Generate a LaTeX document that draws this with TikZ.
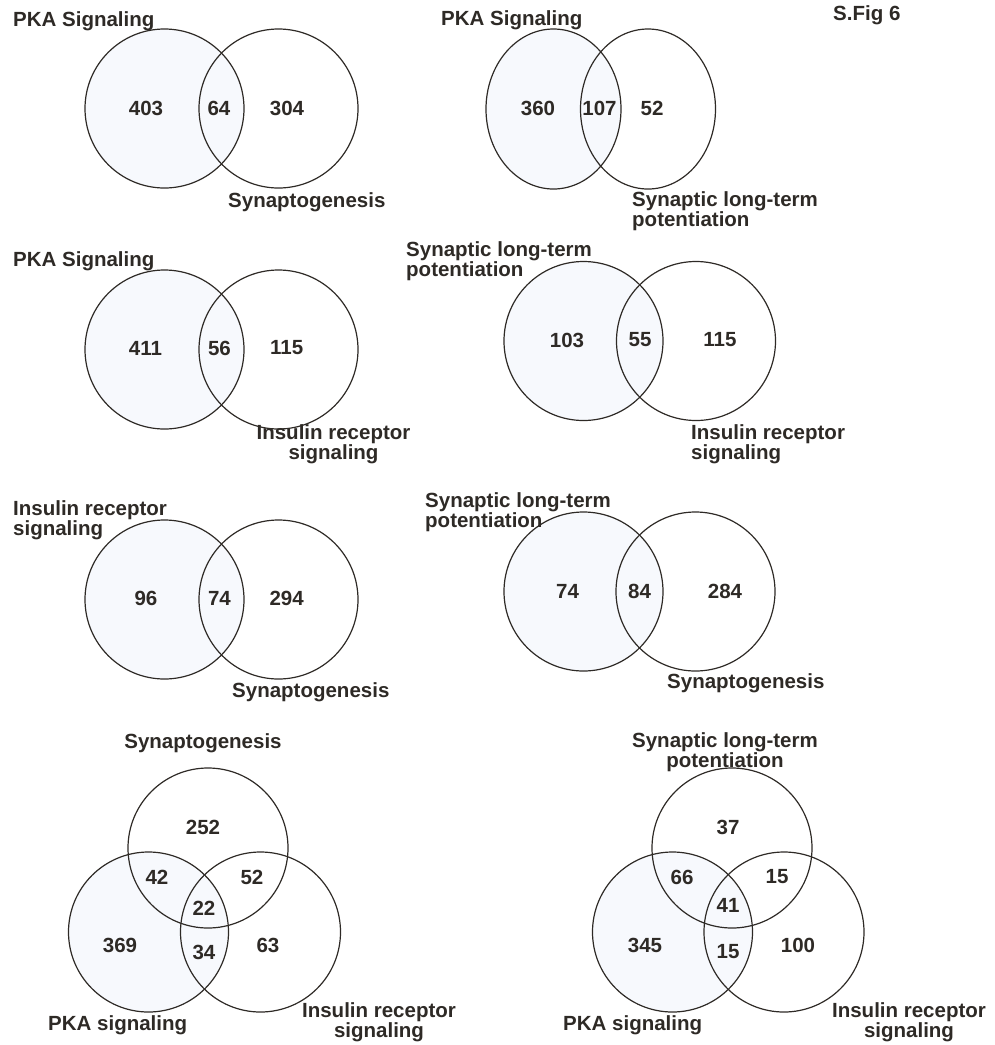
\documentclass[tikz,border=0pt]{standalone}
\usepackage{fontspec}
\setmainfont{Liberation Sans}
\usepackage{tikz}
\usepackage{xcolor}
\usetikzlibrary{shapes,positioning}

\definecolor{ink}{HTML}{2E2A26}
\definecolor{setfill}{HTML}{F7F9FD}

\begin{document}
\begin{tikzpicture}[
    x=1pt, y=-1pt,
    venn/.style={circle, draw=ink, line width=1.2pt, inner sep=0pt, minimum size=159pt},
    vennA/.style={venn, fill=setfill},
    oval/.style={ellipse, draw=ink, line width=1.2pt, inner sep=0pt, minimum width=135pt, minimum height=160pt},
    ovalA/.style={oval, fill=setfill},
    num/.style={text=ink, inner sep=0pt, font=\fontsize{20.5}{18}\selectfont\bfseries},
    lbl/.style={num, anchor=west, align=left},
    lblc/.style={num, align=center},
]
\useasboundingbox (0,0) rectangle (995,1045);

% row 1, left
\node[vennA] (p1a) at (164.5,108.5) {};
\node[venn] (p1b) at (278.5,108.5) {};
\node[num] (n1a) at (146,108) {403};
\node[num] (n1ab) at (219,108) {64};
\node[num] (n1b) at (287,108) {304};
\node[lbl] (l1a) at (13,21) {PKA Signaling};
\node[lbl] (l1b) at (228,202) {Synaptogenesis};

% row 1, right
\node[ovalA] (p2a) at (553.5,109) {};
\node[oval] (p2b) at (648,109) {};
\node[num] (n2a) at (538,108) {360};
\node[num] (n2ab) at (599.5,108) {107};
\node[num] (n2b) at (652,108) {52};
\node[lbl] (l2a) at (441,20) {PKA Signaling};
\node[lbl] (l2b) at (632,211) {Synaptic long-term\\potentiation};
\node[lbl] (sfig) at (833,15) {S.Fig 6};

% row 2, left
\node[vennA] (p3a) at (164.5,349.5) {};
\node[venn] (p3b) at (278.5,349.5) {};
\node[num] (n3a) at (145.5,348) {411};
\node[num] (n3ab) at (219.5,348) {56};
\node[num] (n3b) at (286.7,348) {115};
\node[lbl] (l3a) at (13,261) {PKA Signaling};
\node[lblc] (l3b) at (333.5,444) {Insulin receptor\\signaling};

% row 2, right
\node[vennA] (p4a) at (583.5,341) {};
\node[venn] (p4b) at (696,341) {};
\node[num] (n4a) at (567,340) {103};
\node[num] (n4ab) at (640,340) {55};
\node[num] (n4b) at (720,340) {115};
\node[lbl] (l4a) at (406,261) {Synaptic long-term\\potentiation};
\node[lbl] (l4b) at (691,444) {Insulin receptor\\signaling};

% row 3, left
\node[vennA] (p5a) at (164.5,599.5) {};
\node[venn] (p5b) at (278.5,599.5) {};
\node[num] (n5a) at (146,598) {96};
\node[num] (n5ab) at (219.5,598) {74};
\node[num] (n5b) at (286.7,598) {294};
\node[lbl] (l5a) at (13,520) {Insulin receptor\\signaling};
\node[lbl] (l5b) at (232,692) {Synaptogenesis};

% row 3, right
\node[vennA] (p6a) at (583.5,591.5) {};
\node[venn] (p6b) at (695.5,591.5) {};
\node[num] (n6a) at (567.5,591) {74};
\node[num] (n6ab) at (639.5,591) {84};
\node[num] (n6b) at (725,591) {284};
\node[lbl] (l6a) at (425,512) {Synaptic long-term\\potentiation};
\node[lbl] (l6b) at (667,683) {Synaptogenesis};

% row 4, left: three sets
\node[vennA, minimum size=160pt] (p7a) at (148.5,932) {};
\node[venn, minimum size=160pt] (p7b) at (208,848) {};
\node[venn, minimum size=160pt] (p7c) at (260.5,932) {};
\node[num] (n7b) at (203,827) {252};
\node[num] (n7ab) at (157,877) {42};
\node[num] (n7bc) at (252,877) {52};
\node[num] (n7abc) at (204,908) {22};
\node[num] (n7a) at (120,945) {369};
\node[num] (n7ac) at (204,952) {34};
\node[num] (n7c) at (268,945) {63};
\node[lblc] (l7b) at (203,743) {Synaptogenesis};
\node[lbl] (l7a) at (48,1025) {PKA signaling};
\node[lblc] (l7c) at (379,1022) {Insulin receptor\\signaling};

% row 4, right: three sets
\node[vennA, minimum size=160pt] (p8a) at (672.5,932) {};
\node[venn, minimum size=160pt] (p8b) at (732,848) {};
\node[venn, minimum size=160pt] (p8c) at (784,932) {};
\node[num] (n8b) at (728,827) {37};
\node[num] (n8ab) at (682,877) {66};
\node[num] (n8bc) at (777,877) {15};
\node[num] (n8abc) at (728,905) {41};
\node[num] (n8a) at (645,945) {345};
\node[num] (n8ac) at (728,952) {15};
\node[num] (n8c) at (798,945) {100};
\node[lblc] (l8b) at (725,752) {Synaptic long-term\\potentiation};
\node[lbl] (l8a) at (563,1025) {PKA signaling};
\node[lblc] (l8c) at (909,1022) {Insulin receptor\\signaling};

\end{tikzpicture}
\end{document}
